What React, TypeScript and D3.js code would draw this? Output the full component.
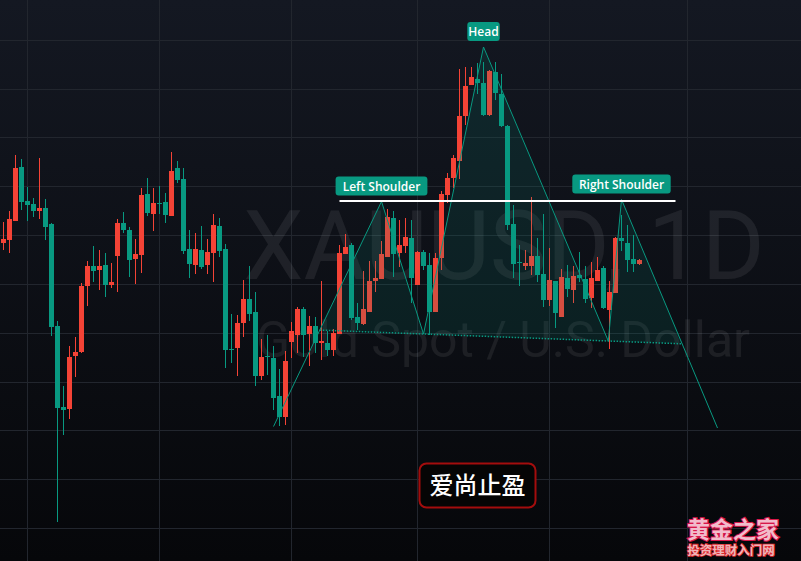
import React from 'react';
import * as d3 from 'd3';

const W = 801;
const H = 561;

const OPEN = [1757,1760,1779,1833,1799,1796,1789,1792,1776,1674,1593,1591,1644,1648,1714,1734,1730,1735,1715,1744,1777,1770,1741,1745,1806,1786,1797,1798,1784,1832,1821,1751,1735,1750,1735,1747,1774,1751,1651,1652,1677,1701,1688,1624,1644,1642,1604,1583,1658,1665,1691,1666,1674,1657,1657,1650,1666,1746,1755,1683,1676,1688,1719,1721,1743,1782,1747,1754,1762,1715,1748,1735,1688,1742,1805,1822,1839,1884,1915,1921,1917,1885,1928,1906,1874,1776,1738,1734,1734,1744,1726,1700,1719,1683,1722,1710,1725,1721,1702,1719,1732,1690,1707,1762,1757,1741,1736];
const HIGH = [1778,1789,1845,1841,1813,1802,1842,1801,1777,1679,1614,1654,1663,1717,1739,1754,1750,1747,1737,1781,1788,1773,1761,1812,1822,1812,1814,1807,1848,1839,1832,1770,1767,1774,1761,1786,1782,1756,1686,1685,1720,1734,1708,1661,1665,1654,1631,1649,1678,1693,1693,1684,1683,1719,1669,1671,1755,1766,1757,1697,1729,1739,1739,1759,1791,1789,1780,1782,1780,1749,1750,1747,1747,1809,1827,1845,1931,1933,1933,1937,1938,1930,1938,1926,1875,1795,1755,1750,1803,1762,1786,1752,1719,1731,1735,1734,1748,1734,1738,1743,1734,1719,1763,1785,1775,1765,1741];
const LOW = [1750,1747,1779,1790,1779,1783,1781,1760,1664,1478,1565,1581,1623,1647,1694,1718,1710,1703,1712,1708,1767,1723,1716,1727,1784,1769,1786,1777,1784,1817,1746,1722,1726,1731,1726,1718,1743,1632,1637,1624,1663,1679,1614,1620,1625,1590,1574,1575,1642,1647,1643,1634,1647,1640,1644,1644,1666,1746,1680,1670,1675,1688,1708,1721,1743,1723,1733,1747,1697,1715,1730,1665,1688,1730,1797,1812,1821,1875,1915,1906,1884,1884,1900,1873,1770,1722,1714,1730,1725,1718,1693,1694,1672,1683,1703,1697,1718,1697,1692,1719,1691,1651,1707,1749,1728,1728,1735];
const CLOSE = [1761,1781,1832,1798,1795,1789,1792,1773,1673,1592,1590,1643,1648,1714,1734,1729,1734,1715,1718,1777,1770,1740,1746,1805,1787,1797,1796,1785,1829,1820,1749,1736,1751,1733,1748,1775,1749,1650,1650,1677,1701,1686,1624,1643,1643,1602,1583,1639,1669,1691,1665,1674,1657,1659,1650,1667,1747,1753,1682,1677,1691,1719,1722,1746,1783,1746,1755,1763,1722,1748,1734,1688,1742,1806,1822,1842,1884,1914,1923,1917,1885,1929,1907,1874,1775,1736,1737,1737,1744,1725,1700,1720,1687,1723,1711,1724,1722,1701,1722,1730,1692,1708,1762,1759,1740,1736,1740];

const PRICE_GRID = [1960, 1911, 1863, 1814, 1765, 1716, 1667, 1618, 1570, 1521, 1472];
const TIME_GRID = [4, 26, 48, 69, 91, 114];

const PATTERN_IDX = [45, 63, 70, 80, 100.8, 103, 119];
const PATTERN_PRICE = [1573.5, 1798.5, 1666, 1953, 1659, 1800.5, 1572];
const PATTERN_LABELS = ['', 'Left Shoulder', '', 'Head', '', 'Right Shoulder', ''];

const LEVEL_PRICE = 1799;
const LEVEL_IDX = [56, 112];

const UP = '#f44336';
const DOWN = '#089981';

function intersect(a, b, c, d) {
  const [x1, y1] = a, [x2, y2] = b, [x3, y3] = c, [x4, y4] = d;
  const den = (x1 - x2) * (y3 - y4) - (y1 - y2) * (x3 - x4);
  const px = ((x1 * y2 - y1 * x2) * (x3 - x4) - (x1 - x2) * (x3 * y4 - y3 * x4)) / den;
  const py = ((x1 * y2 - y1 * x2) * (y3 - y4) - (y1 - y2) * (x3 * y4 - y3 * x4)) / den;
  return [px, py];
}

export default function App() {
  const x = d3.scaleLinear().domain([0, 1]).range([3.5, 9.5]);
  const y = d3.scaleLinear().domain([1439, 2000]).range([H, 0]);

  const pts = PATTERN_IDX.map((i, k) => [x(i), y(PATTERN_PRICE[k])]);
  const [pStart, pLS, pT1, pHead, pT2, pRS, pEnd] = pts;
  const nlL = intersect(pT1, pT2, pStart, pLS);
  const nlR = intersect(pT1, pT2, pRS, pEnd);

  const line = d3.line();
  const fills = [
    [nlL, pLS, pT1],
    [pT1, pHead, pT2],
    [pT2, pRS, nlR],
  ];

  const labelFont = "'Open Sans', 'Noto Sans', sans-serif";

  return (
    <svg width={W} height={H} style={{ position: 'absolute', left: 0, top: 0, display: 'block' }}>
      <defs>
        <linearGradient id="bg" x1="0" y1="0" x2="0" y2="1">
          <stop offset="0" stopColor="#141822" />
          <stop offset="1" stopColor="#06070a" />
        </linearGradient>
      </defs>
      <rect x={0} y={0} width={W} height={H} fill="url(#bg)" />
      <g stroke="#22262e" strokeWidth={1}>
        {PRICE_GRID.map((p) => {
          const yy = Math.round(y(p)) + 0.5;
          return <line key={'h' + p} x1={0} x2={W} y1={yy} y2={yy} />;
        })}
        {TIME_GRID.map((i) => {
          const xx = Math.floor(x(i)) + 0.5;
          return <line key={'v' + i} x1={xx} x2={xx} y1={0} y2={H} />;
        })}
      </g>
      <g fill="#ffffff" fillOpacity={0.075} fontFamily="Roboto, 'Noto Sans', sans-serif" textAnchor="middle">
        <text x={504} y={279} fontSize={96}>XAUUSD, 1D</text>
        <text x={503} y={357} fontSize={50}>Gold Spot / U.S. Dollar</text>
      </g>
      <g>
        {OPEN.map((o, i) => {
          const c = CLOSE[i];
          const col = c >= o ? UP : DOWN;
          const cx = Math.floor(x(i));
          const top = Math.round(y(Math.max(o, c)));
          const bot = Math.round(y(Math.min(o, c)));
          const hi = Math.round(y(HIGH[i]));
          const lo = Math.round(y(LOW[i]));
          return (
            <g key={i} fill={col}>
              <rect x={cx} y={hi} width={1} height={Math.max(1, lo - hi)} />
              <rect x={cx - 2} y={top} width={5} height={Math.max(1, bot - top)} />
            </g>
          );
        })}
      </g>
      <g>
        {fills.map((f, k) => (
          <path key={k} d={line(f) + 'Z'} fill={DOWN} fillOpacity={0.13} stroke="none" />
        ))}
        <line x1={nlL[0]} y1={nlL[1]} x2={nlR[0]} y2={nlR[1]} stroke={DOWN} strokeWidth={1.5} strokeDasharray="1.5,1.5" />
        <path d={line(pts)} fill="none" stroke={DOWN} strokeWidth={1} />
      </g>
      <line
        x1={x(LEVEL_IDX[0])}
        x2={x(LEVEL_IDX[1])}
        y1={y(LEVEL_PRICE)}
        y2={y(LEVEL_PRICE)}
        stroke="#ffffff"
        strokeWidth={2}
      />
      <g>
        {PATTERN_LABELS.map((lab, k) => {
          if (!lab) return null;
          const [px, py] = pts[k];
          const w = lab.length * 6.6 + 6;
          return (
            <g key={k}>
              <rect x={px - w / 2} y={py - 25} width={w} height={19} rx={3} fill={DOWN} />
              <text x={px} y={py - 11} fill="#ffffff" fontSize={12} fontWeight={600} fontFamily={labelFont} textAnchor="middle">
                {lab}
              </text>
            </g>
          );
        })}
      </g>
      <g>
        <rect x={419.5} y={463.5} width={116} height={44} rx={7} fill="#050505" stroke="#a30d0d" strokeWidth={2} />
        <text x={477.5} y={494} fill="#ffffff" fontSize={24} fontWeight={500} fontFamily="'Noto Sans CJK SC', sans-serif" textAnchor="middle">
          爱尚止盈
        </text>
      </g>
      <g fontFamily="'Noto Sans CJK SC', sans-serif" textAnchor="middle" fontWeight={700} style={{ paintOrder: 'stroke' }}>
        <text x={733} y={538} fontSize={23} fill="#f2bccb" stroke="#d8184a" strokeWidth={2.2}>黄金之家</text>
        <text x={731} y={555} fontSize={12.5} fill="#eeb4b8" stroke="#e0282e" strokeWidth={1.6}>投资理财入门网</text>
      </g>
    </svg>
  );
}
